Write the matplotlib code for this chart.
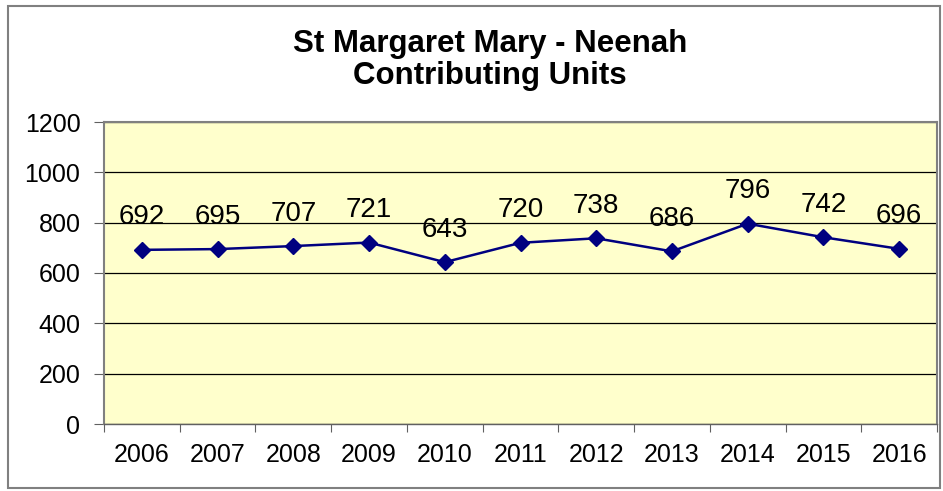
import matplotlib
matplotlib.use("Agg")
import matplotlib.pyplot as plt
from matplotlib.patches import Rectangle
import numpy as np

years = ["2006", "2007", "2008", "2009", "2010", "2011", "2012", "2013", "2014", "2015", "2016"]
units = [692, 695, 707, 721, 643, 720, 738, 686, 796, 742, 696]

plt.rcParams["font.family"] = ["Liberation Sans", "DejaVu Sans"]

W, H = 943, 491
fig = plt.figure(figsize=(W / 100, H / 100), dpi=100)
fig.patch.set_facecolor("white")

# outer chart border
fig.patches.append(Rectangle((8 / W, 1 - 488 / H), (940 - 8) / W, (488 - 6) / H,
                             transform=fig.transFigure, fill=False,
                             edgecolor="#808080", lw=1.5))

left, right, top, bottom = 104, 937, 122, 424
ax = fig.add_axes([left / W, 1 - bottom / H, (right - left) / W, (bottom - top) / H])
ax.set_facecolor("#FFFFCC")

x = np.arange(len(years))
ax.plot(x, units, color="#000080", lw=1.8, marker="D", ms=8.5, zorder=3)
for xi, v in zip(x, units):
    ax.annotate(str(v), (xi, v), xytext=(0, 14), textcoords="offset points",
                ha="center", va="bottom", fontsize=20, color="black")

ax.set_ylim(0, 1200)
ax.set_yticks(range(0, 1201, 200))
ax.yaxis.grid(True, color="black", lw=0.9)
ax.set_axisbelow(True)

ax.set_xlim(-0.5, len(years) - 0.5)
ax.set_xticks(np.arange(-0.5, len(years), 1.0))
ax.set_xticklabels([])
ax.set_xticks(x, minor=True)
ax.set_xticklabels(years, minor=True)
ax.tick_params(axis="x", which="minor", length=0, pad=14, labelsize=18)
ax.tick_params(axis="x", which="major", length=6, color="#606060")
ax.tick_params(axis="y", length=7, labelsize=18, pad=10, color="#606060")

for s in ax.spines.values():
    s.set_color("#808080")
    s.set_linewidth(1.5)
ax.spines["bottom"].set_color("#606060")
ax.spines["bottom"].set_linewidth(1)

fig.text(490 / W, 1 - 60 / H, "St Margaret Mary - Neenah\nContributing Units",
         ha="center", va="center", fontsize=22.5, fontweight="bold", linespacing=1.1)

fig.savefig("out.png", dpi=100)
